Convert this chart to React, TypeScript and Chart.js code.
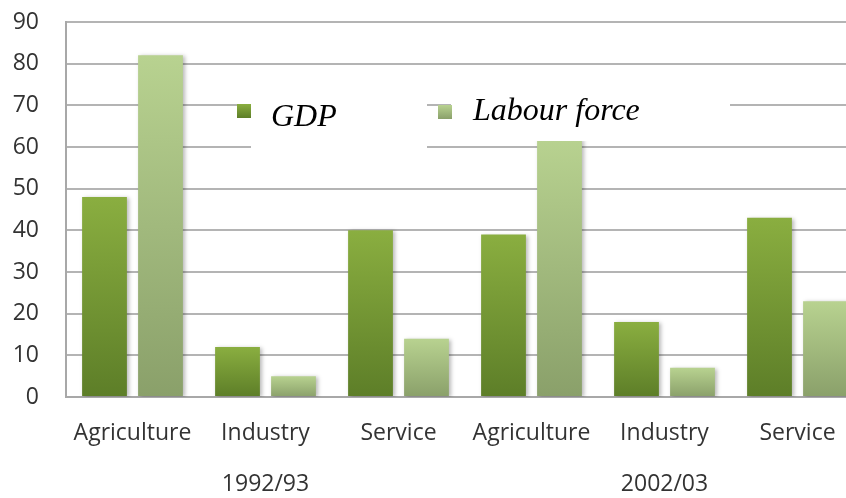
import React, { useEffect, useRef } from "react";
import { Chart, registerables } from "chart.js";

Chart.register(...registerables);

const categories = ["Agriculture", "Industry", "Service", "Agriculture", "Industry", "Service"];
const periodLabels = ["", "1992/93", "", "", "2002/03", ""];
const gdpValues = [48, 12, 40, 39, 18, 43];
const labourValues = [82, 5, 14, 62, 7, 23];
const seriesNames = ["GDP", "Labour force"];
const yTicks = { min: 0, max: 90, step: 10 };

const GDP_TOP = "#8aae40";
const GDP_BOT = "#5d7e28";
const LAB_TOP = "#b8d290";
const LAB_BOT = "#8aa06a";

function gradientFill(top: string, bot: string) {
  return (ctx: any) => {
    const chart = ctx.chart;
    const { chartArea, scales } = chart;
    if (!chartArea || ctx.type !== "data" || !scales.y) return top;
    const yTop = scales.y.getPixelForValue(ctx.raw);
    const yBot = scales.y.getPixelForValue(0);
    const g = chart.ctx.createLinearGradient(0, yTop, 0, yBot);
    g.addColorStop(0, top);
    g.addColorStop(1, bot);
    return g;
  };
}

const shadowPlugin = {
  id: "barShadow",
  beforeDatasetsDraw(chart: any) {
    const c = chart.ctx;
    c.save();
    c.shadowColor = "rgba(0,0,0,0.28)";
    c.shadowBlur = 4;
    c.shadowOffsetX = 2;
    c.shadowOffsetY = 1;
  },
  afterDatasetsDraw(chart: any) {
    chart.ctx.restore();
  },
};

const legendPlugin = {
  id: "floatingLegend",
  afterDraw(chart: any) {
    const c = chart.ctx;
    const names = chart.data.datasets.map((d: any) => d.label);
    c.save();
    c.fillStyle = "#ffffff";
    c.fillRect(251, 84, 176, 65);
    c.fillRect(451, 84, 279, 57);
    const mk = (x: number, y: number, top: string, bot: string) => {
      const g = c.createLinearGradient(0, y, 0, y + 14);
      g.addColorStop(0, top);
      g.addColorStop(1, bot);
      c.fillStyle = g;
      c.fillRect(x, y, 14, 14);
    };
    mk(237, 104, GDP_TOP, GDP_BOT);
    mk(438, 105, LAB_TOP, LAB_BOT);
    c.fillStyle = "#000000";
    c.font = 'italic 32px "Liberation Serif", "DejaVu Serif", serif';
    c.textBaseline = "alphabetic";
    c.textAlign = "left";
    c.fillText(names[0], 271, 126);
    c.fillText(names[1], 473, 120);
    c.restore();
  },
};

export default function App() {
  const ref = useRef<HTMLCanvasElement | null>(null);

  useEffect(() => {
    if (!ref.current) return;
    const labels = categories.map((c, i) => [c, periodLabels[i]]);
    const chart = new Chart(ref.current, {
      type: "bar",
      data: {
        labels,
        datasets: [
          {
            label: seriesNames[0],
            data: gdpValues,
            backgroundColor: gradientFill(GDP_TOP, GDP_BOT),
            borderWidth: 0,
          },
          {
            label: seriesNames[1],
            data: labourValues,
            backgroundColor: gradientFill(LAB_TOP, LAB_BOT),
            borderWidth: 0,
          },
        ],
      },
      options: {
        responsive: false,
        animation: false,
        devicePixelRatio: 1,
        layout: { padding: { top: 22, right: 16, left: 0, bottom: 0 } },
        datasets: {
          bar: { categoryPercentage: 0.842, barPercentage: 0.8 },
        },
        plugins: {
          legend: { display: false },
          tooltip: { enabled: false },
        },
        scales: {
          x: {
            grid: { display: false, drawTicks: false },
            border: { display: true, color: "#a8a8a8", width: 2 },
            ticks: {
              color: "#333333",
              padding: 11,
              maxRotation: 0,
              autoSkip: false,
              font: { family: '"Open Sans", sans-serif', size: 23, lineHeight: 51 / 23 },
            },
            afterFit: (s: any) => {
              s.height = 101;
            },
          },
          y: {
            min: yTicks.min,
            max: yTicks.max,
            grid: { color: "#b4b4b4", lineWidth: 2, drawTicks: false },
            border: { display: true, color: "#a8a8a8", width: 2 },
            ticks: {
              stepSize: yTicks.step,
              color: "#333333",
              padding: 27,
              font: { family: '"Open Sans", sans-serif', size: 23 },
            },
            afterFit: (s: any) => {
              s.width = 66;
              s.paddingTop = 14;
              s.paddingBottom = 14;
            },
          },
        },
      },
      plugins: [shadowPlugin, legendPlugin],
    });
    return () => chart.destroy();
  }, []);

  return (
    <div
      style={{
        position: "fixed",
        left: 0,
        top: 0,
        width: 846,
        height: 498,
        overflow: "hidden",
        background: "#ffffff",
      }}
    >
      <canvas ref={ref} width={880} height={498} style={{ display: "block" }} />
    </div>
  );
}
